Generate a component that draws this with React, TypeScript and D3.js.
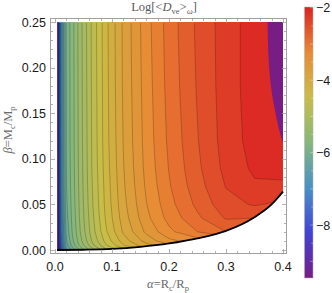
import * as d3 from "d3";
import { useEffect, useRef } from "react";

// grid: alpha columns, beta rows
const alphaCols = [0.0035, 0.006, 0.01, 0.015, 0.02, 0.03, 0.045, 0.065, 0.09, 0.12, 0.16, 0.2, 0.25, 0.3, 0.35, 0.4];
const betaRows = [0, 0.005, 0.01, 0.02, 0.035, 0.05, 0.07, 0.09, 0.12, 0.18, 0.25];

// Log[<D_ve>_w] per alpha column, from beta = 0 up to beta = 0.25
const logDByColumn = [
  [-9.46, -9.4, -9.35, -9.3, -9.28, -9.26, -9.25, -9.24, -9.23, -9.22, -9.2],
  [-8.8, -8.5, -8.35, -8.25, -8.18, -8.13, -8.09, -8.06, -8.04, -8.02, -8.0],
  [-7.8, -7.55, -7.4, -7.28, -7.19, -7.13, -7.08, -7.05, -7.03, -7.01, -7.0],
  [-7.0, -6.8, -6.7, -6.62, -6.55, -6.5, -6.46, -6.44, -6.42, -6.41, -6.4],
  [-6.5, -6.3, -6.22, -6.14, -6.08, -6.04, -6.01, -5.99, -5.98, -5.975, -5.97],
  [-6.15, -5.94, -5.86, -5.8, -5.76, -5.74, -5.72, -5.71, -5.7, -5.695, -5.69],
  [-5.75, -5.53, -5.45, -5.38, -5.34, -5.32, -5.3, -5.29, -5.28, -5.27, -5.26],
  [-5.3, -5.07, -4.98, -4.9, -4.86, -4.83, -4.81, -4.79, -4.78, -4.77, -4.76],
  [-4.85, -4.62, -4.52, -4.42, -4.36, -4.33, -4.31, -4.29, -4.27, -4.26, -4.25],
  [-4.5, -4.22, -4.1, -3.97, -3.9, -3.86, -3.83, -3.81, -3.79, -3.77, -3.76],
  [-4.2, -3.88, -3.72, -3.56, -3.46, -3.41, -3.37, -3.34, -3.32, -3.3, -3.28],
  [-3.95, -3.65, -3.45, -3.25, -3.13, -3.07, -3.02, -2.99, -2.96, -2.93, -2.91],
  [-3.9, -3.6, -3.3, -3.0, -2.84, -2.75, -2.68, -2.64, -2.61, -2.58, -2.56],
  [-3.8, -3.5, -3.2, -2.8, -2.58, -2.47, -2.39, -2.34, -2.31, -2.3, -2.3],
  [-3.6, -3.4, -3.2, -3.0, -2.6, -2.38, -2.23, -2.16, -2.12, -2.1, -2.1],
  [-3.4, -3.2, -3.0, -2.8, -2.6, -2.45, -2.24, -2.12, -2.05, -2.0, -1.98],
];

const valueRange = [-9.46, -1.98];
const contourLevels = d3.range(37).map((k) => +(-9.4 + 0.2 * k).toFixed(2));

// lower edge of the allowed region
const edgeAlpha = [0.0035, 0.05, 0.1, 0.15, 0.2, 0.25, 0.3, 0.35, 0.38, 0.4];
const edgeBeta = [0, 0.0003, 0.0012, 0.0035, 0.0072, 0.0128, 0.021, 0.036, 0.05, 0.064];

// purple patch in the top right corner
const patchAlpha = [0.373, 0.374, 0.377, 0.381, 0.386, 0.392, 0.4];
const patchBeta = [0.25, 0.22, 0.19, 0.17, 0.153, 0.135, 0.117];

const xTicks = [0, 0.1, 0.2, 0.3, 0.4];
const yTicks = [0, 0.05, 0.1, 0.15, 0.2, 0.25];
const barTicks = [-2, -4, -6, -8];

const rainbow = ["#781c86", "#4143d4", "#4891c6", "#86b77b", "#c9bd46", "#e88a35", "#db2122"];

const App = () => {
  const svgRef = useRef<SVGSVGElement>(null);

  useEffect(() => {
    const svg = d3.select(svgRef.current);
    svg.selectAll("*").remove();

    const x = d3.scaleLinear().domain([0, 0.4]).range([55, 283]);
    const y = d3.scaleLinear().domain([0, 0.25]).range([250, 22]);
    const frame = { left: 50.5, right: 286.5, top: 18.5, bottom: 253.5 };

    const color = d3.scaleLinear<string>()
      .domain(rainbow.map((_, i) => valueRange[0] + (valueRange[1] - valueRange[0]) * i / (rainbow.length - 1)))
      .range(rainbow)
      .interpolate(d3.interpolateRgb);

    const nx = alphaCols.length;
    const ny = betaRows.length;
    const values: number[] = new Array(nx * ny);
    for (let j = 0; j < ny; j++)
      for (let i = 0; i < nx; i++) values[j * nx + i] = logDByColumn[i][j];

    const colScale = d3.scaleLinear().domain(d3.range(nx)).range(alphaCols).clamp(true);
    const rowScale = d3.scaleLinear().domain(d3.range(ny)).range(betaRows).clamp(true);
    const proj = d3.geoTransform({
      point(px: number, py: number) {
        (this as any).stream.point(x(colScale(px - 0.5)), y(rowScale(py - 0.5)));
      },
    });
    const path = d3.geoPath(proj);

    const contours = d3.contours().size([nx, ny]).thresholds(contourLevels)(values);

    const defs = svg.append("defs");
    const edgeLine = d3.line<number>()
      .x((_, i) => x(edgeAlpha[i]))
      .y((_, i) => y(edgeBeta[i]))
      .curve(d3.curveMonotoneX);
    const edgePath = edgeLine(edgeAlpha) as string;
    defs.append("clipPath").attr("id", "region")
      .append("path")
      .attr("d", edgePath + `L${x(0.4)},${y(0.25)}L${x(edgeAlpha[0])},${y(0.25)}Z`);
    defs.append("clipPath").attr("id", "inset")
      .append("rect")
      .attr("x", x(edgeAlpha[0]) + 1)
      .attr("y", y(0.25) + 1)
      .attr("width", x(0.4) - x(edgeAlpha[0]) - 2)
      .attr("height", y(0) - y(0.25) - 2);

    const plot = svg.append("g").attr("clip-path", "url(#region)");
    plot.append("rect")
      .attr("x", x(edgeAlpha[0]))
      .attr("y", y(0.25))
      .attr("width", x(0.4) - x(edgeAlpha[0]))
      .attr("height", y(0) - y(0.25))
      .attr("fill", color((valueRange[0] + contourLevels[0]) / 2));

    plot.selectAll("path.band")
      .data(contours)
      .join("path")
      .attr("class", "band")
      .attr("d", (d) => path(d as any))
      .attr("fill", (d, k) => {
        const upper = k + 1 < contourLevels.length ? contourLevels[k + 1] : valueRange[1];
        return color((d.value + upper) / 2);
      })
      .attr("stroke", "none");

    plot.append("g").attr("clip-path", "url(#inset)")
      .selectAll("path")
      .data(contours)
      .join("path")
      .attr("d", (d) => path(d as any))
      .attr("fill", "none")
      .attr("stroke", "#000")
      .attr("stroke-opacity", 0.3)
      .attr("stroke-width", 0.7);

    // purple patch
    const patchLine = d3.line<number>()
      .x((_, i) => x(patchAlpha[i]))
      .y((_, i) => y(patchBeta[i]))
      .curve(d3.curveMonotoneY);
    svg.append("path")
      .attr("d", (patchLine(patchAlpha) as string) + `L${x(0.4)},${y(0.25)}Z`)
      .attr("fill", color(valueRange[0]));

    svg.append("path")
      .attr("d", edgePath)
      .attr("fill", "none")
      .attr("stroke", "#000")
      .attr("stroke-width", 1.8);

    // frame with ticks on every side
    svg.append("rect")
      .attr("x", frame.left)
      .attr("y", frame.top)
      .attr("width", frame.right - frame.left)
      .attr("height", frame.bottom - frame.top)
      .attr("fill", "none")
      .attr("stroke", "#a0a0a0")
      .attr("stroke-width", 1);

    const ticks = svg.append("g").attr("stroke", "#a0a0a0").attr("stroke-width", 0.8);
    d3.range(0, 21).map((k) => k * 0.02).forEach((v) => {
      const major = Math.abs(v * 10 - Math.round(v * 10)) < 1e-6;
      const len = major ? 4.5 : 2.5;
      const px = Math.round(x(v)) + 0.5;
      ticks.append("line").attr("x1", px).attr("x2", px).attr("y1", frame.bottom).attr("y2", frame.bottom - len);
      ticks.append("line").attr("x1", px).attr("x2", px).attr("y1", frame.top).attr("y2", frame.top + len);
    });
    d3.range(0, 26).map((k) => k * 0.01).forEach((v) => {
      const major = Math.abs(v * 20 - Math.round(v * 20)) < 1e-6;
      const len = major ? 4.5 : 2.5;
      const py = Math.round(y(v)) + 0.5;
      ticks.append("line").attr("y1", py).attr("y2", py).attr("x1", frame.left).attr("x2", frame.left + len);
      ticks.append("line").attr("y1", py).attr("y2", py).attr("x1", frame.right).attr("x2", frame.right - len);
    });

    const font = "'Liberation Sans', Arial, sans-serif";
    svg.append("g")
      .selectAll("text")
      .data(xTicks)
      .join("text")
      .attr("x", (d) => x(d))
      .attr("y", 271)
      .attr("text-anchor", "middle")
      .attr("font-family", font)
      .attr("font-size", 12.5)
      .attr("fill", "#1a1a1a")
      .text((d) => d.toFixed(1));

    svg.append("g")
      .selectAll("text")
      .data(yTicks)
      .join("text")
      .attr("x", 46)
      .attr("y", (d) => y(d))
      .attr("dy", "0.36em")
      .attr("text-anchor", "end")
      .attr("font-family", font)
      .attr("font-size", 12.5)
      .attr("fill", "#1a1a1a")
      .text((d) => d.toFixed(2));

    // colour bar
    const bar = { x: 304.5, w: 8.5 };
    const barY = d3.scaleLinear().domain(valueRange).range([278, 7]);
    const grad = defs.append("linearGradient")
      .attr("id", "barGrad")
      .attr("x1", 0).attr("x2", 0).attr("y1", 1).attr("y2", 0);
    d3.range(0, 41).forEach((k) => {
      const t = k / 40;
      grad.append("stop")
        .attr("offset", t)
        .attr("stop-color", color(valueRange[0] + (valueRange[1] - valueRange[0]) * t));
    });
    svg.append("rect")
      .attr("x", bar.x)
      .attr("y", barY(valueRange[1]))
      .attr("width", bar.w)
      .attr("height", barY(valueRange[0]) - barY(valueRange[1]))
      .attr("fill", "url(#barGrad)")
      .attr("stroke", "#b0b0b0")
      .attr("stroke-width", 0.5);
    const barTickG = svg.append("g").attr("stroke", "#ffffff").attr("stroke-opacity", 0.5).attr("stroke-width", 0.7);
    d3.range(-9, -1.9, 0.5).forEach((v) => {
      const major = Number.isInteger(v);
      barTickG.append("line")
        .attr("x1", bar.x + bar.w)
        .attr("x2", bar.x + bar.w - (major ? 3 : 1.8))
        .attr("y1", barY(v))
        .attr("y2", barY(v));
    });
    svg.append("g")
      .selectAll("text")
      .data(barTicks)
      .join("text")
      .attr("x", 316)
      .attr("y", (d) => barY(d))
      .attr("dy", "0.36em")
      .attr("font-family", font)
      .attr("font-size", 12.5)
      .attr("fill", "#1a1a1a")
      .text((d) => "\u2212" + Math.abs(d));

    // title and axis labels
    const serif = "'Liberation Serif', 'DejaVu Serif', serif";
    const title = svg.append("text")
      .attr("x", 164)
      .attr("y", 11)
      .attr("text-anchor", "middle")
      .attr("font-family", serif)
      .attr("font-size", 12.5)
      .attr("fill", "#5a5a5a");
    title.append("tspan").text("Log[<");
    title.append("tspan").attr("font-style", "italic").text("D");
    title.append("tspan").attr("font-size", 8.5).attr("dy", 3).text("ve");
    title.append("tspan").attr("dy", -3).text(">");
    title.append("tspan").attr("font-size", 8.5).attr("dy", 3).attr("font-style", "italic").text("ω");
    title.append("tspan").attr("dy", -3).text("]");

    const xl = svg.append("text")
      .attr("x", 168)
      .attr("y", 288)
      .attr("text-anchor", "middle")
      .attr("font-family", serif)
      .attr("font-size", 12.5)
      .attr("fill", "#6a6a6a");
    xl.append("tspan").attr("font-style", "italic").text("α");
    xl.append("tspan").text("=R");
    xl.append("tspan").attr("font-size", 8.5).attr("dy", 3).text("c");
    xl.append("tspan").attr("dy", -3).text("/R");
    xl.append("tspan").attr("font-size", 8.5).attr("dy", 3).text("p");

    const yl = svg.append("text")
      .attr("transform", "translate(12,130) rotate(-90)")
      .attr("text-anchor", "middle")
      .attr("font-family", serif)
      .attr("font-size", 12.5)
      .attr("fill", "#6a6a6a");
    yl.append("tspan").attr("font-style", "italic").text("β");
    yl.append("tspan").text("=M");
    yl.append("tspan").attr("font-size", 8.5).attr("dy", 3).text("c");
    yl.append("tspan").attr("dy", -3).text("/M");
    yl.append("tspan").attr("font-size", 8.5).attr("dy", 3).text("p");
  }, []);

  return (
    <svg
      ref={svgRef}
      width={332}
      height={293}
      style={{ position: "absolute", left: 0, top: 0, background: "#fff" }}
    />
  );
};

export default App;
